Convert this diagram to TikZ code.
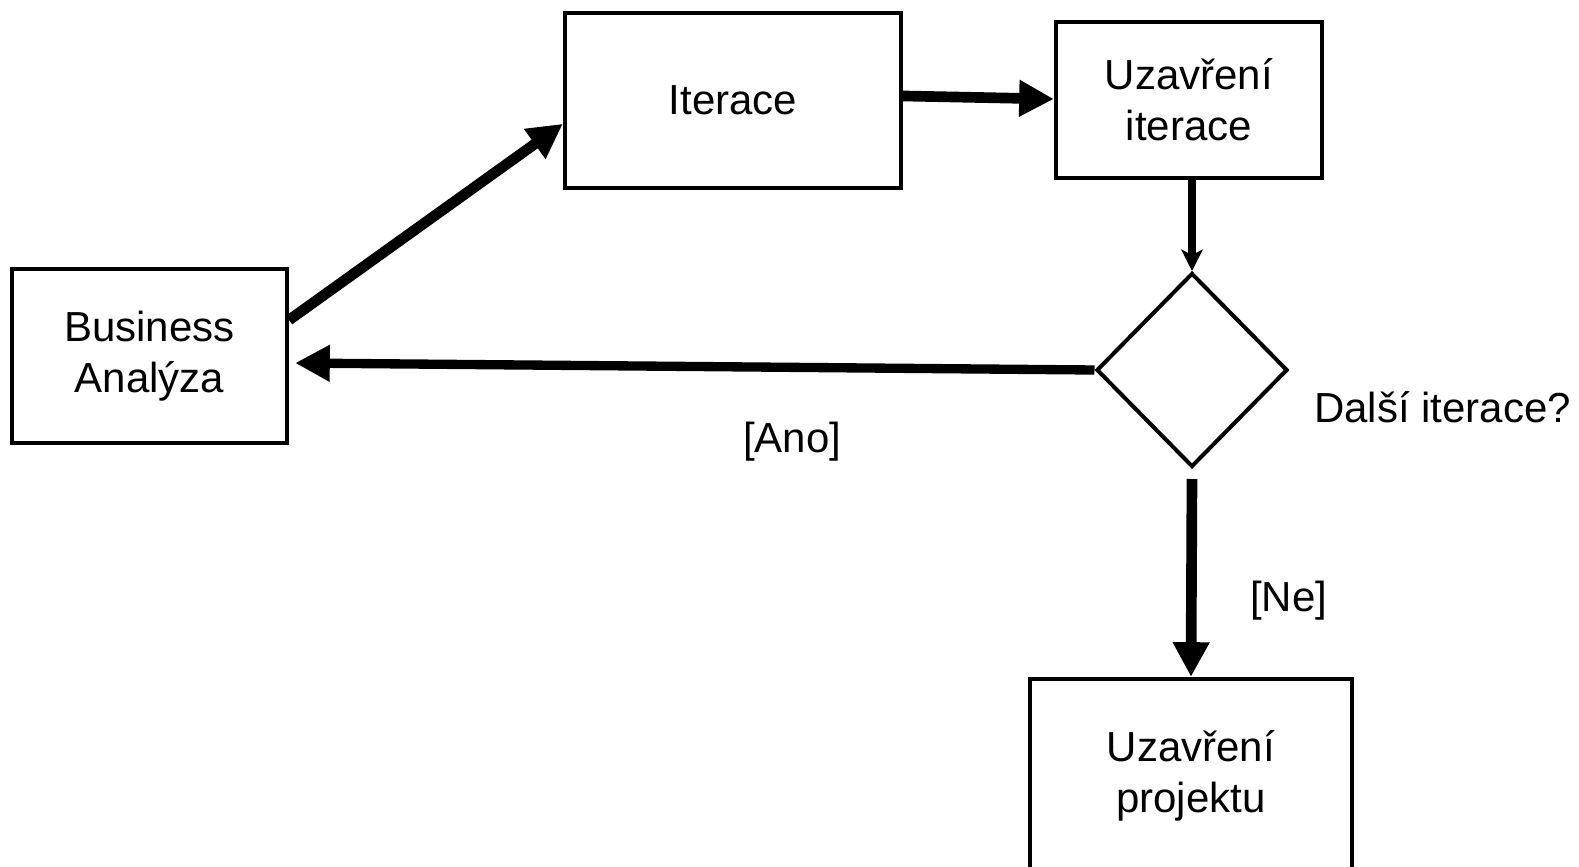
\documentclass[tikz,border=0pt]{standalone}
\usepackage{fontspec}
\setmainfont{Liberation Sans}
\usetikzlibrary{arrows.meta,shapes.geometric,calc}

\begin{document}
\begin{tikzpicture}[x=0.75pt,y=-0.75pt,
  txt/.style={font=\fontsize{31.5pt}{38.6pt}\selectfont},
  box/.style={draw, rectangle, line width=3.2pt, inner sep=0pt, align=center, txt},
  decision/.style={draw, diamond, line width=3pt, inner sep=0pt},
  lbl/.style={inner sep=0pt, anchor=base west, txt},
  bigarrow/.style={line width=#1, -{Triangle[length=26pt,width=26pt]}},
  bigarrow/.default=8pt,
  thinarrow/.style={line width=5.5pt, -{Stealth[length=16pt,width=16pt,inset=4pt]}},
]
\clip (0,0) rectangle (1579,867);

% process boxes
\node[box, minimum width=252pt, minimum height=131.25pt] (iter) at (733,100.5) {Iterace};
\node[box, minimum width=199.5pt, minimum height=117pt] (uziter) at (1189,100) {Uzavření\\iterace};
\node[box, minimum width=206.25pt, minimum height=130.5pt] (ba) at (149.5,356) {Business\\Analýza};
\node[box, minimum width=241.5pt, minimum height=145.5pt] (proj) at (1191,776) {Uzavření\\projektu};

% decision
\node[decision, minimum width=143.25pt, minimum height=145.5pt] (dec) at (1192,370) {};

% labels
\node[lbl] (qlbl) at (1314,422) {Další iterace?};
\node[lbl] (ano) at (743,452) {[Ano]};
\node[lbl] (ne) at (1250,611) {[Ne]};

% flow
\draw[bigarrow] ([yshift=27pt]ba.east) -- ([yshift=-17.5pt]iter.west);
\draw[bigarrow] ([yshift=3.4pt]iter.east) -- ([yshift=0.75pt]uziter.west);
\draw[thinarrow] (dec.north |- uziter.south) -- (dec.north);
\draw[bigarrow=7pt] (dec.west) -- ([xshift=4.5pt,yshift=-5.25pt]ba.east);
\draw[bigarrow] ([yshift=-7.5pt]dec.south) -- (proj.north);
\end{tikzpicture}
\end{document}
